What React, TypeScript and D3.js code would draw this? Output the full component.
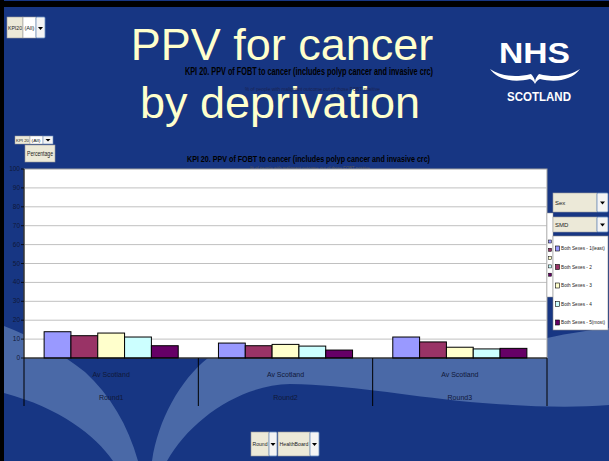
import React from "react";
import * as d3 from "d3";

const rounds = ["Round1", "Round2", "Round3"];
const areaLabels = ["Av Scotland", "Av Scotland", "Av Scotland"];
const seriesNames = [
  "Both Sexes - 1(least)",
  "Both Sexes - 2",
  "Both Sexes - 3",
  "Both Sexes - 4",
  "Both Sexes - 5(most)",
];
const seriesColors = ["#9999ff", "#993366", "#ffffcc", "#ccffff", "#660066"];
const round1Values = [13.9, 11.8, 13.2, 11.1, 6.5];
const round2Values = [7.9, 6.5, 7.2, 6.3, 4.2];
const round3Values = [11.1, 8.5, 5.7, 4.8, 5.1];
const yTicks = [0, 10, 20, 30, 40, 50, 60, 70, 80, 90, 100];

const W = 609;
const H = 461;
const BG = "#173683";
const LIGHT = "#4a69a7";
const NARROW = "'Liberation Sans Narrow', 'Arial Narrow', 'Liberation Sans', sans-serif";
const SANS = "'Liberation Sans', Arial, sans-serif";
const TXT = "#101838";

const plot = { left: 24, right: 547, top: 169, bottom: 358 };

function Dropdown({ x, y, w, h, label, boxW, fs }: any) {
  return (
    <g>
      <rect x={x} y={y} width={boxW} height={h} fill="#ece9d8" stroke="#a0a0a0" strokeWidth={0.6} />
      <text x={x + 2} y={y + h / 2 + fs * 0.35} fontFamily={NARROW} fontSize={fs} fill="#222">{label}</text>
      <rect x={x + boxW} y={y} width={w - boxW} height={h} fill="#f4f4f4" stroke="#6d8fc0" strokeWidth={0.8} rx={1} />
      <path d={`M${x + boxW + (w - boxW) / 2 - 2.5},${y + h / 2 - 1} l5,0 l-2.5,3 z`} fill="#000" />
    </g>
  );
}

export default function App() {
  const data = [round1Values, round2Values, round3Values];
  const x0 = d3.scaleBand<string>().domain(rounds).range([plot.left, plot.right]).paddingInner(0).paddingOuter(0);
  const x1 = d3
    .scaleBand<number>()
    .domain(d3.range(seriesNames.length))
    .range([0, x0.bandwidth()])
    .paddingInner(0)
    .paddingOuter(0.75);
  const y = d3.scaleLinear().domain([0, 100]).range([plot.bottom, plot.top]);

  const boundaries = [plot.left, ...rounds.map((r) => (x0(r) as number) + x0.bandwidth())];

  return (
    <div style={{ position: "absolute", left: 0, top: 0 }}>
      <svg width={W} height={H} style={{ display: "block" }}>
        <rect x={0} y={0} width={W} height={H} fill={BG} />
        {/* decorative swooshes */}
        <path d="M4,326 C30,336 60,352 85,372 C110,395 128,425 138,461 L113,461 C95,435 60,408 4,393 Z" fill={LIGHT} />
        <path d="M208,358 L547,358 L547,338 C570,333 590,330 609,328 L609,405 C560,409 510,405 470,402 C400,395 350,385 290,384 C240,385 190,420 167,461 L152,461 C158,420 180,380 208,358 Z" fill={LIGHT} />
        {/* frame */}
        <rect x={0} y={1} width={W} height={6} fill="#000" />
        <rect x={0} y={0} width={4} height={H} fill="#000" />

        {/* slide title */}
        <text x={282} y={60} textAnchor="middle" fontFamily={SANS} fontSize={45} fill="#ffffcc">PPV for cancer</text>
        <text x={280} y={118} textAnchor="middle" fontFamily={SANS} fontSize={45} fill="#ffffcc">by deprivation</text>

        {/* overlay chart title */}
        <text x={185} y={75} fontFamily={NARROW} fontWeight="bold" fontSize={10.5} fill="#000" textLength={248} lengthAdjust="spacingAndGlyphs">KPI 20. PPV of FOBT to cancer (includes polyp cancer and invasive crc)</text>
        <text x={245} y={91} fontFamily={NARROW} fontSize={5.5} fill="#1a2350" textLength={135} lengthAdjust="spacingAndGlyphs">% of people with malignant outcome out of those FOBT positive</text>

        {/* NHS logo */}
        <text x={499} y={63} fontFamily={SANS} fontWeight="bold" fontSize={30} fill="#fff" textLength={71} lengthAdjust="spacingAndGlyphs">NHS</text>
        <path d="M490,69 C500,76 515,78 531,74 C533,76 535,79 535,82 C535,79 537,76 539,74 C555,78 570,76 580,69 C572,80 556,83 540,79 C537,80 536,82 535,84 C534,82 533,80 530,79 C514,83 498,80 490,69 Z" fill="#fff" />
        <text x={507} y={101} fontFamily={SANS} fontWeight="bold" fontSize={12.5} fill="#fff" textLength={64} lengthAdjust="spacingAndGlyphs">SCOTLAND</text>

        {/* top-left page field */}
        <rect x={7} y={17} width={16} height={21} fill="#ece9d8" stroke="#9a9a9a" strokeWidth={0.6} />
        <text x={8} y={30} fontFamily={NARROW} fontSize={5} fill="#222" textLength={14} lengthAdjust="spacingAndGlyphs">KPI20</text>
        <rect x={23} y={17} width={13} height={21} fill="#fff" stroke="#9a9a9a" strokeWidth={0.6} />
        <text x={24.5} y={30} fontFamily={NARROW} fontSize={5} fill="#222" textLength={10} lengthAdjust="spacingAndGlyphs">(All)</text>
        <rect x={36} y={17} width={9} height={21} fill="#f4f4f4" stroke="#6d8fc0" strokeWidth={0.8} rx={1} />
        <path d="M38,27 l5,0 l-2.5,3 z" fill="#000" />

        {/* chart title */}
        <text x={187} y={162} fontFamily={NARROW} fontWeight="bold" fontSize={9.5} fill="#000" textLength={243} lengthAdjust="spacingAndGlyphs">KPI 20. PPV of FOBT to cancer (includes polyp cancer and invasive crc)</text>
        <text x={250} y={170} fontFamily={NARROW} fontSize={5} fill="#555" textLength={120} lengthAdjust="spacingAndGlyphs">% of people with malignant outcome out of those FOBT positive</text>

        {/* small page field + data field */}
        <rect x={15} y={136} width={15} height={8} fill="#ece9d8" stroke="#9a9a9a" strokeWidth={0.5} />
        <text x={16} y={142} fontFamily={NARROW} fontSize={4} fill="#222" textLength={13} lengthAdjust="spacingAndGlyphs">KPI 20</text>
        <rect x={30} y={136} width={13} height={8} fill="#fff" stroke="#9a9a9a" strokeWidth={0.5} />
        <text x={31.5} y={142} fontFamily={NARROW} fontSize={4} fill="#222" textLength={9} lengthAdjust="spacingAndGlyphs">(All)</text>
        <rect x={43} y={136} width={10} height={8} fill="#f4f4f4" stroke="#6d8fc0" strokeWidth={0.6} />
        <path d="M45.5,139 l5,0 l-2.5,2.5 z" fill="#000" />
        <rect x={25} y={145} width={30} height={17} fill="#ece9d8" stroke="#9a9a9a" strokeWidth={0.6} />
        <text x={27} y={156} fontFamily={NARROW} fontSize={6.5} fill="#222" textLength={26} lengthAdjust="spacingAndGlyphs">Percentage</text>

        {/* plot area */}
        <rect x={plot.left} y={plot.top} width={plot.right - plot.left} height={plot.bottom - plot.top} fill="#fff" stroke="#a0a0a0" strokeWidth={1} />
        {yTicks.filter((t) => t > 0 && t < 100).map((t) => (
          <line key={"g" + t} x1={plot.left} x2={plot.right} y1={y(t)} y2={y(t)} stroke="#c0c0c0" strokeWidth={1} />
        ))}
        {yTicks.map((t) => (
          <g key={"t" + t}>
            <line x1={plot.left - 3} x2={plot.left} y1={y(t)} y2={y(t)} stroke="#000" strokeWidth={0.8} />
            <text x={plot.left - 4} y={y(t) + 2} textAnchor="end" fontFamily={NARROW} fontSize={6.5} fill={TXT}>{t}</text>
          </g>
        ))}
        <line x1={plot.left} x2={plot.left} y1={plot.top} y2={plot.bottom} stroke="#000" strokeWidth={1} />

        {/* bars */}
        {rounds.map((r, ri) => (
          <g key={r} transform={`translate(${x0(r)},0)`}>
            {data[ri].map((v, si) => (
              <rect
                key={si}
                x={x1(si)}
                y={y(v)}
                width={x1.bandwidth()}
                height={y(0) - y(v)}
                fill={seriesColors[si]}
                stroke="#000"
                strokeWidth={1}
              />
            ))}
          </g>
        ))}
        <line x1={plot.left} x2={plot.right} y1={plot.bottom} y2={plot.bottom} stroke="#000" strokeWidth={1.2} />

        {/* category axis */}
        {boundaries.map((bx, i) => (
          <line key={"b" + i} x1={bx} x2={bx} y1={plot.bottom} y2={406} stroke="#000" strokeWidth={1} />
        ))}
        {rounds.map((r, ri) => {
          const cx = (x0(r) as number) + x0.bandwidth() / 2;
          return (
            <g key={"l" + r}>
              <text x={cx} y={377} textAnchor="middle" fontFamily={NARROW} fontSize={7} fill={TXT}>{areaLabels[ri]}</text>
              <text x={cx} y={400} textAnchor="middle" fontFamily={NARROW} fontSize={7} fill={TXT}>{r}</text>
            </g>
          );
        })}

        {/* hidden chart legend sliver */}
        <rect x={547} y={213} width={6} height={84} fill="#fff" stroke="#999" strokeWidth={0.5} />
        {seriesColors.map((c, i) => (
          <rect key={"s" + i} x={548.5} y={240 + i * 8.3} width={3} height={3} fill={c} stroke="#000" strokeWidth={0.5} />
        ))}

        {/* dropdowns */}
        <Dropdown x={553} y={193} w={55} h={19} boxW={44} label="Sex" fs={6} />
        <Dropdown x={553} y={217} w={55} h={15} boxW={44} label="SMD" fs={6} />

        {/* legend list */}
        <rect x={553} y={236} width={55} height={94} fill="#fff" stroke="#8a8a8a" strokeWidth={0.6} />
        {seriesNames.map((n, i) => {
          const ly = 250 + i * 18.5;
          return (
            <g key={"lg" + i}>
              <rect x={555.5} y={ly - 4} width={4} height={5} fill={seriesColors[i]} stroke="#000" strokeWidth={0.6} />
              <text x={561} y={ly} fontFamily={NARROW} fontSize={4.7} fill="#222">{n}</text>
            </g>
          );
        })}

        {/* bottom row fields */}
        <rect x={251} y={432} width={18} height={24} fill="#ece9d8" stroke="#9a9a9a" strokeWidth={0.6} />
        <text x={252.5} y={446} fontFamily={NARROW} fontSize={5.5} fill="#222" textLength={15} lengthAdjust="spacingAndGlyphs">Round</text>
        <rect x={269} y={432} width={8} height={24} fill="#f4f4f4" stroke="#6d8fc0" strokeWidth={0.8} rx={1} />
        <path d="M270.5,443 l5,0 l-2.5,3 z" fill="#000" />
        <rect x={278} y={432} width={32} height={24} fill="#ece9d8" stroke="#9a9a9a" strokeWidth={0.6} />
        <text x={279.5} y={446} fontFamily={NARROW} fontSize={5.5} fill="#222" textLength={29} lengthAdjust="spacingAndGlyphs">HealthBoard</text>
        <rect x={310} y={432} width={9} height={24} fill="#f4f4f4" stroke="#6d8fc0" strokeWidth={0.8} rx={1} />
        <path d="M312,443 l5,0 l-2.5,3 z" fill="#000" />
      </svg>
    </div>
  );
}
